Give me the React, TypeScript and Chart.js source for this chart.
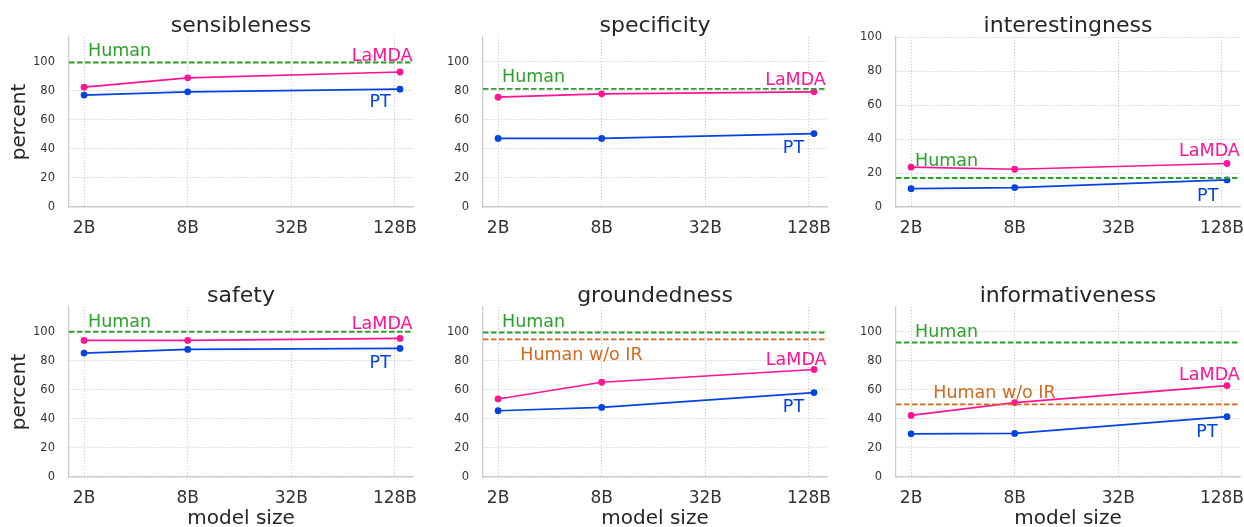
import React, { useEffect, useRef } from "react";
import { Chart, registerables } from "chart.js";

Chart.register(...registerables);

// ---------- data ----------
const modelSizes = [2, 8, 137]; // billions of parameters
const xTickValues = [2, 8, 32, 128];
const yTickValues = [0, 20, 40, 60, 80, 100];

const sensiblenessLaMDA = [82.5, 88.9, 92.9];
const sensiblenessPT = [77.0, 79.3, 81.1];
const sensiblenessHuman = 99.5;

const specificityLaMDA = [75.6, 77.9, 79.3];
const specificityPT = [47.2, 47.2, 50.5];
const specificityHuman = 81.3;

const interestingnessLaMDA = [23.4, 22.2, 25.6];
const interestingnessPT = [10.8, 11.4, 15.9];
const interestingnessHuman = 17.1;

const safetyLaMDA = [94.0, 94.0, 95.4];
const safetyPT = [85.3, 87.8, 88.5];
const safetyHuman = 100;

const groundednessLaMDA = [53.7, 65.2, 74.0];
const groundednessPT = [45.6, 47.9, 58.1];
const groundednessHuman = 99.5;
const groundednessHumanNoIR = 94.7;

const informativenessLaMDA = [42.4, 51.2, 62.9];
const informativenessPT = [29.7, 30.0, 41.5];
const informativenessHuman = 92.6;
const informativenessHumanNoIR = 50.0;

// ---------- styles ----------
const FONT = "'DejaVu Sans', Verdana, sans-serif";
const PINK = "#ff1493";
const BLUE = "#0343df";
const GREEN = "#2ca02c";
const ORANGE = "#d2691e";
const TEXT = "#262626";
const GRID = "#c4c4c4";

const X_MIN = 1.635;
const X_MAX = 163;

type Label = { text: string; x: number; y: number; align: CanvasTextAlign; color: string };
type RefLine = { value: number; color: string };
type PanelDef = {
  title: string;
  lamda: number[];
  pt: number[];
  refs: RefLine[];
  labels: Label[];
  yMax: number;
};

const panels: PanelDef[] = [
  {
    title: "sensibleness",
    lamda: sensiblenessLaMDA,
    pt: sensiblenessPT,
    refs: [{ value: sensiblenessHuman, color: GREEN }],
    labels: [
      { text: "Human", x: 2.11, y: 103.7, align: "left", color: GREEN },
      { text: "LaMDA", x: 162, y: 100.2, align: "right", color: PINK },
      { text: "PT", x: 121, y: 68.7, align: "right", color: BLUE },
    ],
    yMax: 117,
  },
  {
    title: "specificity",
    lamda: specificityLaMDA,
    pt: specificityPT,
    refs: [{ value: specificityHuman, color: GREEN }],
    labels: [
      { text: "Human", x: 2.11, y: 86, align: "left", color: GREEN },
      { text: "LaMDA", x: 160.5, y: 84.1, align: "right", color: PINK },
      { text: "PT", x: 120, y: 37.3, align: "right", color: BLUE },
    ],
    yMax: 117,
  },
  {
    title: "interestingness",
    lamda: interestingnessLaMDA,
    pt: interestingnessPT,
    refs: [{ value: interestingnessHuman, color: GREEN }],
    labels: [
      { text: "Human", x: 2.11, y: 24.2, align: "left", color: GREEN },
      { text: "LaMDA", x: 162.5, y: 29.9, align: "right", color: PINK },
      { text: "PT", x: 122, y: 3.5, align: "right", color: BLUE },
    ],
    yMax: 100,
  },
  {
    title: "safety",
    lamda: safetyLaMDA,
    pt: safetyPT,
    refs: [{ value: safetyHuman, color: GREEN }],
    labels: [
      { text: "Human", x: 2.11, y: 103.2, align: "left", color: GREEN },
      { text: "LaMDA", x: 162, y: 101.6, align: "right", color: PINK },
      { text: "PT", x: 121, y: 75.2, align: "right", color: BLUE },
    ],
    yMax: 117,
  },
  {
    title: "groundedness",
    lamda: groundednessLaMDA,
    pt: groundednessPT,
    refs: [
      { value: groundednessHuman, color: GREEN },
      { value: groundednessHumanNoIR, color: ORANGE },
    ],
    labels: [
      { text: "Human", x: 2.11, y: 103.2, align: "left", color: GREEN },
      { text: "Human w/o IR", x: 2.69, y: 80.7, align: "left", color: ORANGE },
      { text: "LaMDA", x: 162, y: 76.8, align: "right", color: PINK },
      { text: "PT", x: 120, y: 44.7, align: "right", color: BLUE },
    ],
    yMax: 117,
  },
  {
    title: "informativeness",
    lamda: informativenessLaMDA,
    pt: informativenessPT,
    refs: [
      { value: informativenessHuman, color: GREEN },
      { value: informativenessHumanNoIR, color: ORANGE },
    ],
    labels: [
      { text: "Human", x: 2.11, y: 96.3, align: "left", color: GREEN },
      { text: "Human w/o IR", x: 2.69, y: 54.3, align: "left", color: ORANGE },
      { text: "LaMDA", x: 162.5, y: 66.5, align: "right", color: PINK },
      { text: "PT", x: 120.8, y: 27.5, align: "right", color: BLUE },
    ],
    yMax: 117,
  },
];

// ---------- layout ----------
const Y_AXIS_W = 69;
const PLOT_W = 344;
const PLOT_H = 170;
const TOP_PAD = 37;
const RIGHT_PAD = 4;
const COL_LEFT = [69, 483, 896];
const ROW_TOP = [37, 307];

function Panel({ def, col, row }: { def: PanelDef; col: number; row: number }) {
  const ref = useRef<HTMLCanvasElement>(null);
  const showY = col === 0;
  const showX = row === 1;
  const xAxisH = showX ? 52 : 40;
  const width = Y_AXIS_W + PLOT_W + RIGHT_PAD;
  const height = TOP_PAD + PLOT_H + xAxisH;
  const left = COL_LEFT[col] - Y_AXIS_W;
  const top = ROW_TOP[row] - TOP_PAD;

  useEffect(() => {
    const overlay = {
      id: "overlay",
      afterDatasetsDraw(chart: any) {
        const { ctx, chartArea, scales } = chart;
        ctx.save();
        for (const r of def.refs) {
          const y = scales.y.getPixelForValue(r.value);
          ctx.strokeStyle = r.color;
          ctx.lineWidth = 1.9;
          ctx.setLineDash([5.5, 2.5]);
          ctx.beginPath();
          ctx.moveTo(chartArea.left, y);
          ctx.lineTo(chartArea.right, y);
          ctx.stroke();
        }
        ctx.setLineDash([]);
        ctx.font = `17.5px ${FONT}`;
        ctx.textBaseline = "alphabetic";
        for (const l of def.labels) {
          ctx.fillStyle = l.color;
          ctx.textAlign = l.align;
          ctx.fillText(l.text, scales.x.getPixelForValue(l.x), scales.y.getPixelForValue(l.y));
        }
        ctx.font = `22px ${FONT}`;
        ctx.fillStyle = TEXT;
        ctx.textAlign = "center";
        ctx.fillText(def.title, (chartArea.left + chartArea.right) / 2, chartArea.top - 5.5);
        ctx.restore();
      },
    };

    const mk = (vals: number[]) => modelSizes.map((x, i) => ({ x, y: vals[i] }));
    const chart = new Chart(ref.current as HTMLCanvasElement, {
      type: "line",
      data: {
        datasets: [
          {
            label: "LaMDA",
            data: mk(def.lamda),
            borderColor: PINK,
            backgroundColor: PINK,
            pointBackgroundColor: PINK,
            pointBorderColor: PINK,
            pointBorderWidth: 0,
            pointRadius: 3.4,
            borderWidth: 1.7,
          },
          {
            label: "PT",
            data: mk(def.pt),
            borderColor: BLUE,
            backgroundColor: BLUE,
            pointBackgroundColor: BLUE,
            pointBorderColor: BLUE,
            pointBorderWidth: 0,
            pointRadius: 3.4,
            borderWidth: 1.7,
          },
        ],
      },
      options: {
        animation: false,
        responsive: false,
        layout: { padding: { top: TOP_PAD, right: RIGHT_PAD, left: 0, bottom: 0 } },
        plugins: {
          legend: { display: false },
          tooltip: { enabled: false },
          title: { display: false },
        },
        scales: {
          x: {
            type: "logarithmic",
            min: X_MIN,
            max: X_MAX,
            afterBuildTicks: (s: any) => {
              s.ticks = xTickValues.map((v) => ({ value: v }));
            },
            afterFit: (s: any) => {
              s.height = xAxisH;
              s.paddingLeft = 0;
              s.paddingRight = 0;
            },
            ticks: {
              callback: (v: any) => `${v}B`,
              font: { family: FONT, size: 17 },
              color: "#333",
              padding: 11,
              autoSkip: false,
              maxRotation: 0,
            },
            grid: { color: GRID, lineWidth: 0.9, drawTicks: false },
            border: { color: "#cccccc", width: 1.25, dash: [1.2, 1.8] },
            title: {
              display: showX,
              text: "model size",
              font: { family: FONT, size: 20, lineHeight: 1 },
              color: TEXT,
              padding: { top: 0, bottom: 0 },
            },
          },
          y: {
            type: "linear",
            min: 0,
            max: def.yMax,
            afterBuildTicks: (s: any) => {
              s.ticks = yTickValues.map((v) => ({ value: v }));
            },
            afterFit: (s: any) => {
              s.width = Y_AXIS_W;
              s.paddingTop = 0;
              s.paddingBottom = 0;
            },
            ticks: {
              font: { family: FONT, size: 11.5 },
              color: "#333",
              padding: 14,
            },
            grid: { color: GRID, lineWidth: 0.9, drawTicks: false },
            border: { color: "#cccccc", width: 1.25, dash: [1.2, 1.8] },
            title: {
              display: showY,
              text: "percent",
              font: { family: FONT, size: 20, lineHeight: 1.2 },
              color: TEXT,
              padding: { top: 8, bottom: 0 },
            },
          },
        },
      } as any,
      plugins: [overlay],
    });
    return () => chart.destroy();
  }, []);

  return (
    <canvas
      ref={ref}
      width={width}
      height={height}
      style={{ position: "absolute", left, top, width, height }}
    />
  );
}

export default function App() {
  return (
    <div
      style={{
        position: "fixed",
        left: 0,
        top: 0,
        width: 1244,
        height: 527,
        overflow: "hidden",
        background: "#ffffff",
      }}
    >
      {panels.map((p, i) => (
        <Panel key={p.title} def={p} col={i % 3} row={Math.floor(i / 3)} />
      ))}
    </div>
  );
}
